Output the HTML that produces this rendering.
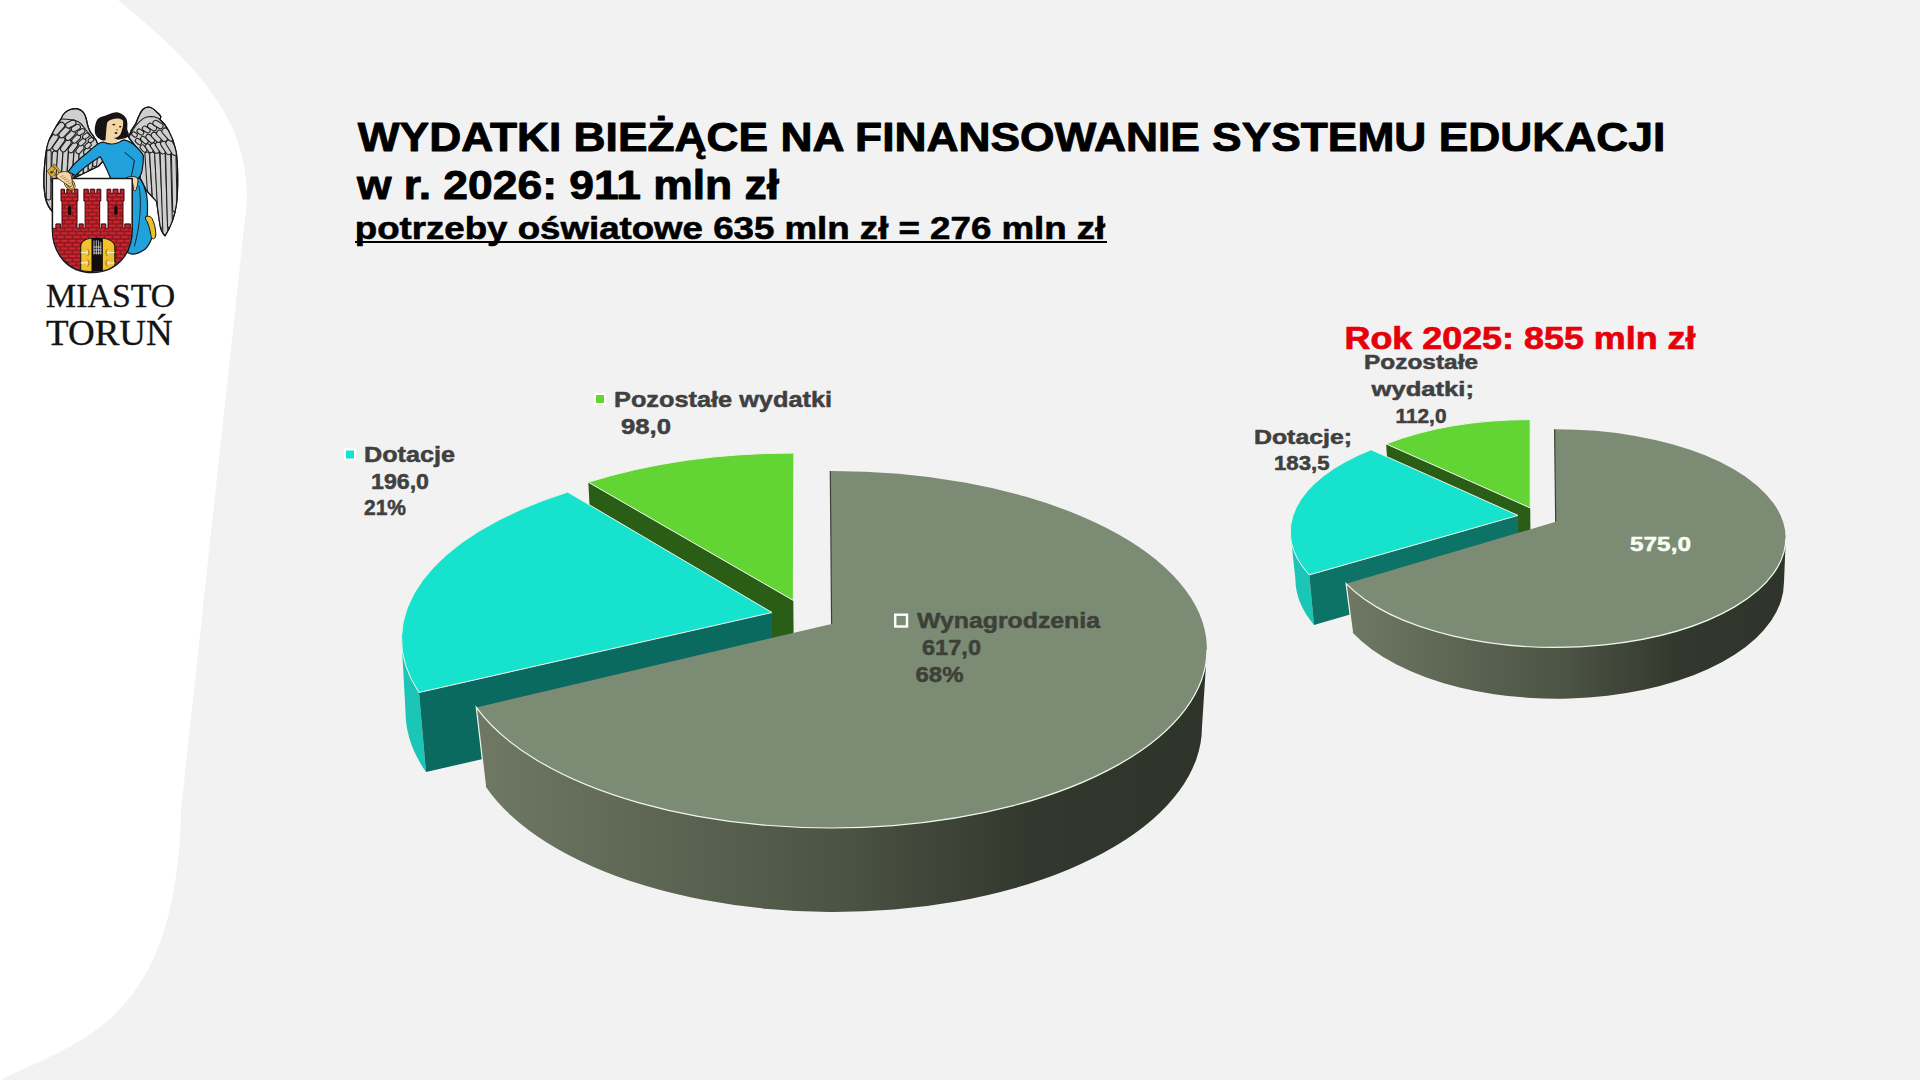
<!DOCTYPE html>
<html><head><meta charset="utf-8">
<style>
html,body{margin:0;padding:0;width:1920px;height:1080px;overflow:hidden;background:#f2f2f2;}
svg{display:block;}
.t{font-family:"Liberation Sans",sans-serif;font-weight:bold;}
.s{font-family:"Liberation Serif",serif;}
</style></head><body>
<svg width="1920" height="1080" viewBox="0 0 1920 1080">
<defs>
<linearGradient id="gside" x1="480" y1="0" x2="1210" y2="0" gradientUnits="userSpaceOnUse">
<stop offset="0" stop-color="#6e7863"/><stop offset="0.5" stop-color="#4b5343"/><stop offset="0.75" stop-color="#33382e"/><stop offset="1" stop-color="#2f342b"/>
</linearGradient>
<linearGradient id="gside2" x1="1348" y1="0" x2="1787" y2="0" gradientUnits="userSpaceOnUse">
<stop offset="0" stop-color="#6e7863"/><stop offset="0.5" stop-color="#4b5343"/><stop offset="0.75" stop-color="#33382e"/><stop offset="1" stop-color="#2f342b"/>
</linearGradient>
<pattern id="brick" x="0.5" y="189.6" width="8" height="7.6" patternUnits="userSpaceOnUse">
<rect width="8" height="7.6" fill="#6e1014"/>
<rect x="0.5" y="0.5" width="7" height="2.8" fill="#cc2630"/>
<rect x="-3.5" y="4.3" width="7" height="2.8" fill="#cc2630"/>
<rect x="4.5" y="4.3" width="7" height="2.8" fill="#cc2630"/>
</pattern>
</defs>
<rect width="1920" height="1080" fill="#f2f2f2"/>
<path d="M0,0 L118,0 C191.6,60.7 251.3,117.3 246.5,205 L181,810 C176.5,1030.1 74.2,1040.7 -5,1083 L0,1083 Z" fill="#ffffff"/>
<rect x="355" y="241" width="752" height="2" fill="#000"/>
<g id="bigpie">
<path d="M588.3,482.2 L793.3,600.4 L794.0,680.4 L592.6,562.2 Z" fill="#2a5e17"/>
<path d="M793.3,600.4 L793.9,453.0 A372.0,176.0 0 0 0 588.3,482.2 Z" fill="#62d434" stroke="#eef6ea" stroke-width="1"/>
<path d="M401.5,639.0 A370.0,176.0 0 0 0 419.0,692.5 L426.0,772.1 A362.5,182.5 0 0 1 405.5,711.6 Z" fill="#1bc6b6"/>
<path d="M419.0,692.5 L772.0,612.5 L772.7,692.0 L426.0,772.1 Z" fill="#0b6a5f"/>
<path d="M772.0,612.5 L567.7,492.1 A370.0,176.0 0 0 0 419.0,692.5 Z" fill="#16e2cd" stroke="#eef6ea" stroke-width="1"/>
<path d="M476.3,707.4 L485.5,786.2 A368.0,185.3 0 0 0 1202.0,726.7 L1207.0,649.5 A375.5,178.5 0 0 1 476.3,707.4 Z" fill="url(#gside)"/>
<path d="M831.6,624.0 L830.3,471.0 A375.5,178.5 0 1 1 476.3,707.4 Z" fill="#7c8b74"/>
<path d="M1207.0,649.5 A375.5,178.5 0 0 1 476.3,707.4 L485.5,786.2" fill="none" stroke="#eef6ea" stroke-width="1.2"/>
<path d="M830.3,471.0 L831.6,624.0" fill="none" stroke="#3c4236" stroke-width="1.2"/>
</g>
<g id="smallpie">
<path d="M1386.1,443.9 L1530.2,507.9 L1530.7,557.9 L1389.6,493.9 Z" fill="#2a5e17"/>
<path d="M1530.2,507.9 L1530.2,419.6 A228.0,108.0 0 0 0 1386.1,443.9 Z" fill="#62d434" stroke="#eef6ea" stroke-width="1"/>
<path d="M1290.3,531.9 A227.5,107.5 0 0 0 1309.3,574.9 L1314.0,625.0 A223.6,115.0 0 0 1 1295.4,579.1 Z" fill="#1bc6b6"/>
<path d="M1309.3,574.9 L1518.0,515.4 L1518.5,565.5 L1314.0,625.0 Z" fill="#0d7367"/>
<path d="M1518.0,515.4 L1371.1,449.7 A227.5,107.5 0 0 0 1309.3,574.9 Z" fill="#16e2cd" stroke="#eef6ea" stroke-width="1"/>
<path d="M1346.1,583.7 L1352.5,632.6 A227.0,116.8 0 0 0 1784.0,581.9 L1785.8,538.2 A230.3,109.0 0 0 1 1346.1,583.7 Z" fill="url(#gside2)"/>
<path d="M1555.7,521.8 L1554.6,429.2 A230.3,109.0 0 1 1 1346.1,583.7 Z" fill="#7c8b74"/>
<path d="M1785.8,538.2 A230.3,109.0 0 0 1 1346.1,583.7 L1352.5,632.6" fill="none" stroke="#eef6ea" stroke-width="1.2"/>
<path d="M1554.6,429.2 L1555.7,521.8" fill="none" stroke="#3c4236" stroke-width="1.2"/>
</g>
<rect x="595" y="394" width="10" height="10" fill="#62d434" stroke="#ffffff" stroke-width="2"/>
<rect x="345" y="449.5" width="10" height="10" fill="#16e2cd" stroke="#ffffff" stroke-width="2"/>
<rect x="895.2" y="614.7" width="11.8" height="11.8" fill="#7c8b74" stroke="#ffffff" stroke-width="2.4"/>

<text class="t" x="357.80" y="151.00" font-size="40" textLength="1307.40" lengthAdjust="spacingAndGlyphs" fill="#000" stroke="#000" stroke-width="0.9" stroke-linejoin="round">WYDATKI BIEŻĄCE NA FINANSOWANIE SYSTEMU EDUKACJI</text>
<text class="t" x="357.00" y="199.00" font-size="40" textLength="422.00" lengthAdjust="spacingAndGlyphs" fill="#000" stroke="#000" stroke-width="0.9" stroke-linejoin="round">w r. 2026: 911 mln zł</text>
<text class="t" x="354.80" y="239.00" font-size="31" textLength="750.50" lengthAdjust="spacingAndGlyphs" fill="#000" stroke="#000" stroke-width="0.6" stroke-linejoin="round">potrzeby oświatowe 635 mln zł = 276 mln zł</text>
<text class="t" x="614.00" y="407.10" font-size="22" textLength="218.00" lengthAdjust="spacingAndGlyphs" fill="#404040" stroke="#404040" stroke-width="0.5" stroke-linejoin="round">Pozostałe wydatki</text>
<text class="t" x="621.00" y="434.20" font-size="22" textLength="50.00" lengthAdjust="spacingAndGlyphs" fill="#404040" stroke="#404040" stroke-width="0.5" stroke-linejoin="round">98,0</text>
<text class="t" x="364.00" y="461.80" font-size="22" textLength="91.00" lengthAdjust="spacingAndGlyphs" fill="#404040" stroke="#404040" stroke-width="0.5" stroke-linejoin="round">Dotacje</text>
<text class="t" x="371.00" y="489.20" font-size="22" textLength="58.00" lengthAdjust="spacingAndGlyphs" fill="#404040" stroke="#404040" stroke-width="0.5" stroke-linejoin="round">196,0</text>
<text class="t" x="364.00" y="515.40" font-size="22" textLength="42.00" lengthAdjust="spacingAndGlyphs" fill="#404040" stroke="#404040" stroke-width="0.5" stroke-linejoin="round">21%</text>
<text class="t" x="917.00" y="628.10" font-size="22" textLength="183.00" lengthAdjust="spacingAndGlyphs" fill="#3c4138" stroke="#3c4138" stroke-width="0.5" stroke-linejoin="round">Wynagrodzenia</text>
<text class="t" x="922.00" y="655.00" font-size="22" textLength="59.00" lengthAdjust="spacingAndGlyphs" fill="#3c4138" stroke="#3c4138" stroke-width="0.5" stroke-linejoin="round">617,0</text>
<text class="t" x="915.50" y="681.90" font-size="22" textLength="48.00" lengthAdjust="spacingAndGlyphs" fill="#3c4138" stroke="#3c4138" stroke-width="0.5" stroke-linejoin="round">68%</text>
<text class="t" x="1364.00" y="368.75" font-size="20" textLength="114.00" lengthAdjust="spacingAndGlyphs" fill="#404040" stroke="#404040" stroke-width="0.5" stroke-linejoin="round">Pozostałe</text>
<text class="t" x="1371.50" y="395.50" font-size="20" textLength="102.50" lengthAdjust="spacingAndGlyphs" fill="#404040" stroke="#404040" stroke-width="0.5" stroke-linejoin="round">wydatki;</text>
<text class="t" x="1395.50" y="422.50" font-size="20" textLength="51.00" lengthAdjust="spacingAndGlyphs" fill="#404040" stroke="#404040" stroke-width="0.5" stroke-linejoin="round">112,0</text>
<text class="t" x="1254.00" y="443.75" font-size="20" textLength="98.00" lengthAdjust="spacingAndGlyphs" fill="#404040" stroke="#404040" stroke-width="0.5" stroke-linejoin="round">Dotacje;</text>
<text class="t" x="1274.00" y="470.00" font-size="20" textLength="55.50" lengthAdjust="spacingAndGlyphs" fill="#404040" stroke="#404040" stroke-width="0.5" stroke-linejoin="round">183,5</text>
<text class="t" x="1630.00" y="551.00" font-size="21" textLength="61.00" lengthAdjust="spacingAndGlyphs" fill="#f8fff4" stroke="#f8fff4" stroke-width="0.5" stroke-linejoin="round">575,0</text>
<text class="t" x="1344.50" y="348.75" font-size="31" textLength="351.00" lengthAdjust="spacingAndGlyphs" fill="#e5000a" stroke="#e5000a" stroke-width="0.7" stroke-linejoin="round">Rok 2025: 855 mln zł</text>
<text class="s" x="46.10" y="307.00" font-size="34" textLength="129.10" lengthAdjust="spacingAndGlyphs" fill="#141414" stroke="#141414" stroke-width="0.35" stroke-linejoin="round">MIASTO</text>
<text class="s" x="46.10" y="344.50" font-size="36.5" textLength="126.60" lengthAdjust="spacingAndGlyphs" fill="#141414" stroke="#141414" stroke-width="0.35" stroke-linejoin="round">TORUŃ</text>
<g id="logo">
<g stroke="#151515" stroke-width="1.2" stroke-linejoin="round" stroke-linecap="round">
<path fill="#cfcfcf" stroke="#151515" stroke-width="1.2" d="M61.4,118.4 C62.5,114.5 66,111 71,109.3 C75,108 80,108.5 83.3,112.3 C85.5,115 86.5,119 87.2,123.4 C88.5,129 90.5,133 92.8,135.1 C94,137 95,138.8 96.1,140.1 L104,160 L98.3,166.3 L76.3,177 L72,178.5 L52.4,178.5 L52.4,211.5 C49,208 46.5,203 45.2,197 C43.7,189 43.5,181 43.9,175.4 C44.5,165 45.2,157 46.5,149.4 C47.5,145 48.5,141 50,138 C53,132 57,124 61.4,118.4 Z"/>
<clipPath id="lwclip"><path d="M61.4,118.4 C62.5,114.5 66,111 71,109.3 C75,108 80,108.5 83.3,112.3 C85.5,115 86.5,119 87.2,123.4 C88.5,129 90.5,133 92.8,135.1 C94,137 95,138.8 96.1,140.1 L104,160 L98.3,166.3 L76.3,177 L72,178.5 L52.4,178.5 L52.4,211.5 C49,208 46.5,203 45.2,197 C43.7,189 43.5,181 43.9,175.4 C44.5,165 45.2,157 46.5,149.4 C47.5,145 48.5,141 50,138 C53,132 57,124 61.4,118.4 Z"/></clipPath><g clip-path="url(#lwclip)" fill="#cfcfcf" stroke="#1e1e1e" stroke-width="1.05"><rect x="23.75" y="172.75" width="50.00" height="4.50" rx="2.25" transform="rotate(90.6 48.75 175.00)"/><rect x="38.73" y="163.90" width="31.04" height="5.20" rx="2.60" transform="rotate(92.8 54.25 166.50)"/><rect x="44.47" y="160.40" width="30.07" height="5.20" rx="2.60" transform="rotate(93.8 59.50 163.00)"/><rect x="48.97" y="159.40" width="32.06" height="5.20" rx="2.60" transform="rotate(93.6 65.00 162.00)"/><rect x="54.47" y="159.40" width="32.06" height="5.20" rx="2.60" transform="rotate(93.6 70.50 162.00)"/><rect x="61.22" y="159.15" width="29.57" height="5.20" rx="2.60" transform="rotate(93.9 76.00 161.75)"/><rect x="67.73" y="159.00" width="27.04" height="5.00" rx="2.50" transform="rotate(93.2 81.25 161.50)"/><rect x="73.98" y="159.00" width="24.55" height="4.50" rx="2.25" transform="rotate(93.5 86.25 161.25)"/><rect x="80.97" y="157.75" width="19.56" height="4.00" rx="2.00" transform="rotate(94.4 90.75 159.75)"/><rect x="87.96" y="157.25" width="14.58" height="4.00" rx="2.00" transform="rotate(95.9 95.25 159.25)"/><rect x="42.70" y="138.75" width="18.00" height="6.50" rx="3.25" transform="rotate(-55.0 51.70 142.00)"/><rect x="50.76" y="140.70" width="16.00" height="6.20" rx="3.10" transform="rotate(-54.0 58.76 143.80)"/><rect x="58.82" y="142.65" width="14.00" height="5.90" rx="2.95" transform="rotate(-53.0 65.82 145.60)"/><rect x="66.88" y="144.60" width="12.00" height="5.60" rx="2.80" transform="rotate(-52.0 72.88 147.40)"/><rect x="74.94" y="146.55" width="10.00" height="5.30" rx="2.65" transform="rotate(-51.0 79.94 149.20)"/><rect x="83.00" y="148.50" width="8.00" height="5.00" rx="2.50" transform="rotate(-50.0 87.00 151.00)"/><rect x="51.00" y="125.55" width="15.00" height="6.30" rx="3.15" transform="rotate(-47.0 58.50 128.70)"/><rect x="57.70" y="129.09" width="13.40" height="5.94" rx="2.97" transform="rotate(-45.6 64.40 132.06)"/><rect x="64.40" y="132.63" width="11.80" height="5.58" rx="2.79" transform="rotate(-44.2 70.30 135.42)"/><rect x="71.10" y="136.17" width="10.20" height="5.22" rx="2.61" transform="rotate(-42.8 76.20 138.78)"/><rect x="77.80" y="139.71" width="8.60" height="4.86" rx="2.43" transform="rotate(-41.4 82.10 142.14)"/><rect x="84.50" y="143.25" width="7.00" height="4.50" rx="2.25" transform="rotate(-40.0 88.00 145.50)"/><rect x="65.30" y="121.20" width="11.00" height="5.60" rx="2.80" transform="rotate(-27.0 70.80 124.00)"/><rect x="70.97" y="125.40" width="9.75" height="5.20" rx="2.60" transform="rotate(-29.0 75.85 128.00)"/><rect x="76.65" y="129.60" width="8.50" height="4.80" rx="2.40" transform="rotate(-31.0 80.90 132.00)"/><rect x="82.33" y="133.80" width="7.25" height="4.40" rx="2.20" transform="rotate(-33.0 85.95 136.00)"/><rect x="88.00" y="138.00" width="6.00" height="4.00" rx="2.00" transform="rotate(-35.0 91.00 140.00)"/></g>
<path fill="none" stroke="#1e1e1e" stroke-width="1.05" d="M61.4,119.1 C65,119.3 68,119.5 71.2,119.8 C74,120.2 76.5,120.8 78.3,121.7 C80.5,123 82.3,125 83.5,126.9 C85.3,129 87,131.3 88.7,133.4 C90.3,135.5 92,137.5 93.8,139.2"/>
<path fill="none" stroke="#151515" stroke-width="1.2" d="M61.4,118.4 C62.5,114.5 66,111 71,109.3 C75,108 80,108.5 83.3,112.3 C85.5,115 86.5,119 87.2,123.4 C88.5,129 90.5,133 92.8,135.1 C94,137 95,138.8 96.1,140.1 L104,160 L98.3,166.3 L76.3,177 L72,178.5 L52.4,178.5 L52.4,211.5 C49,208 46.5,203 45.2,197 C43.7,189 43.5,181 43.9,175.4 C44.5,165 45.2,157 46.5,149.4 C47.5,145 48.5,141 50,138 C53,132 57,124 61.4,118.4 Z"/>
<path fill="#cfcfcf" stroke="#151515" stroke-width="1.2" d="M128.6,137.4 C130.5,131 133,127 135.8,123.7 C138,118 140,112 143,109.2 C145,107.5 147,107 148.8,107 C152,107.2 155,110 157.5,112.8 C159,114 160.5,115.5 160.8,116.5 C160.8,117.8 160.2,118.8 159.7,119.3 C163.5,122.5 166.5,126.5 168.4,130.2 C171.5,136 173.8,142 174.9,146.8 C176.2,151 176.9,155 177,159.8 C177.6,167 177.7,173 177.7,180 C177.7,188 177.6,195 176.5,204 C175,215 171.5,226 165,235.8 C162,233 160.5,229 160,225 C158.5,216 157.5,208 156.7,201.7 L146,190 L140,178 L143,156 Z"/>
<clipPath id="rwclip"><path d="M128.6,137.4 C130.5,131 133,127 135.8,123.7 C138,118 140,112 143,109.2 C145,107.5 147,107 148.8,107 C152,107.2 155,110 157.5,112.8 C159,114 160.5,115.5 160.8,116.5 C160.8,117.8 160.2,118.8 159.7,119.3 C163.5,122.5 166.5,126.5 168.4,130.2 C171.5,136 173.8,142 174.9,146.8 C176.2,151 176.9,155 177,159.8 C177.6,167 177.7,173 177.7,180 C177.7,188 177.6,195 176.5,204 C175,215 171.5,226 165,235.8 C162,233 160.5,229 160,225 C158.5,216 157.5,208 156.7,201.7 L146,190 L140,178 L143,156 Z"/></clipPath><g clip-path="url(#rwclip)" fill="#cfcfcf" stroke="#1e1e1e" stroke-width="1.05"><rect x="125.95" y="172.25" width="45.10" height="4.50" rx="2.25" transform="rotate(86.2 148.50 174.50)"/><rect x="125.70" y="177.50" width="56.11" height="5.00" rx="2.50" transform="rotate(86.4 153.75 180.00)"/><rect x="120.45" y="187.00" width="77.10" height="5.00" rx="2.50" transform="rotate(87.0 159.00 189.50)"/><rect x="121.72" y="190.25" width="84.55" height="5.00" rx="2.50" transform="rotate(88.0 164.00 192.75)"/><rect x="129.49" y="186.00" width="79.03" height="5.00" rx="2.50" transform="rotate(88.5 169.00 188.50)"/><rect x="142.24" y="177.75" width="64.02" height="4.50" rx="2.25" transform="rotate(88.7 174.25 180.00)"/><rect x="139.50" y="146.25" width="8.00" height="4.50" rx="2.25" transform="rotate(50.0 143.50 148.50)"/><rect x="144.30" y="145.85" width="9.80" height="4.90" rx="2.45" transform="rotate(51.6 149.20 148.30)"/><rect x="149.10" y="145.45" width="11.60" height="5.30" rx="2.65" transform="rotate(53.2 154.90 148.10)"/><rect x="153.90" y="145.05" width="13.40" height="5.70" rx="2.85" transform="rotate(54.8 160.60 147.90)"/><rect x="158.70" y="144.65" width="15.20" height="6.10" rx="3.05" transform="rotate(56.4 166.30 147.70)"/><rect x="163.50" y="144.25" width="17.00" height="6.50" rx="3.25" transform="rotate(58.0 172.00 147.50)"/><rect x="135.00" y="139.25" width="7.00" height="4.50" rx="2.25" transform="rotate(40.0 138.50 141.50)"/><rect x="140.10" y="137.67" width="8.60" height="4.86" rx="2.43" transform="rotate(41.6 144.40 140.10)"/><rect x="145.20" y="136.09" width="10.20" height="5.22" rx="2.61" transform="rotate(43.2 150.30 138.70)"/><rect x="150.30" y="134.51" width="11.80" height="5.58" rx="2.79" transform="rotate(44.8 156.20 137.30)"/><rect x="155.40" y="132.93" width="13.40" height="5.94" rx="2.97" transform="rotate(46.4 162.10 135.90)"/><rect x="160.50" y="131.35" width="15.00" height="6.30" rx="3.15" transform="rotate(48.0 168.00 134.50)"/><rect x="131.50" y="132.50" width="6.00" height="4.00" rx="2.00" transform="rotate(35.0 134.50 134.50)"/><rect x="136.75" y="129.80" width="7.25" height="4.40" rx="2.20" transform="rotate(33.8 140.38 132.00)"/><rect x="142.00" y="127.10" width="8.50" height="4.80" rx="2.40" transform="rotate(32.5 146.25 129.50)"/><rect x="147.25" y="124.40" width="9.75" height="5.20" rx="2.60" transform="rotate(31.2 152.12 127.00)"/><rect x="152.50" y="121.70" width="11.00" height="5.60" rx="2.80" transform="rotate(30.0 158.00 124.50)"/></g>
<path fill="none" stroke="#1e1e1e" stroke-width="1.05" d="M128.6,137.4 C131,133 133.5,129 135.8,125.8 C138,123 140.5,120.5 143,118.6 C145.5,117.3 148,116.6 150.3,116.5 C153,116.5 155.5,117 157.5,117.9 C158.5,118.4 159.2,118.8 159.7,119.3"/>
<path fill="none" stroke="#151515" stroke-width="1.2" d="M128.6,137.4 C130.5,131 133,127 135.8,123.7 C138,118 140,112 143,109.2 C145,107.5 147,107 148.8,107 C152,107.2 155,110 157.5,112.8 C159,114 160.5,115.5 160.8,116.5 C160.8,117.8 160.2,118.8 159.7,119.3 C163.5,122.5 166.5,126.5 168.4,130.2 C171.5,136 173.8,142 174.9,146.8 C176.2,151 176.9,155 177,159.8 C177.6,167 177.7,173 177.7,180 C177.7,188 177.6,195 176.5,204 C175,215 171.5,226 165,235.8 C162,233 160.5,229 160,225 C158.5,216 157.5,208 156.7,201.7 L146,190 L140,178 L143,156 Z"/>
<!-- hair -->
<path fill="#161414" stroke="none" d="M116.6,112.2 C119,112.3 120.5,113.2 122,114.3 C123.5,115 124.6,116 125.4,117.2 C126.6,118.8 127.2,120.5 127.2,122.1 C127.6,124.5 127.3,127 127.2,129.1 C127.6,131 128.6,132.6 129,134.4 C129,135.8 128.2,136.8 127.2,137.2 C126,138 124.8,138.4 123.7,138.6 L117,140 L104.3,140.6 C102.5,140.6 101,140 99.7,139 C98.3,138.2 97.3,137.3 96.6,136.2 C95.3,134.5 94.8,132.8 94.8,130.9 C94.6,129 94.8,127.3 95.2,125.6 C95.6,123.3 96.3,121.3 97.3,119.6 C99,117.8 101.5,116.8 104.3,116.1 C106,115.2 107.8,114.5 109.6,114 C112,113 114.3,112.3 116.6,112.2 Z"/>
<!-- face -->
<path fill="#f4d6a6" stroke="none" d="M107.1,122.8 C108.5,121 110,120 111.7,119.6 C114,118.8 116.3,118.4 118.4,118.6 C120.2,118.9 121.8,119.6 123,120.7 C123.3,123 123.2,125.5 122.6,127.7 C122,130.2 121.2,132.6 120.2,134.8 C118.5,136.8 116,138 113.8,138.3 L117.4,139.2 L117.8,143.6 L105.2,143.6 L105.4,141.4 C105.6,138.5 105.8,135.5 106.1,132.6 C106.3,129.3 106.6,126 107.1,122.8 Z"/>
<g fill="#3a1e08" stroke="none">
<ellipse cx="113.8" cy="124.6" rx="1.5" ry="0.9"/><ellipse cx="120.2" cy="126.7" rx="1.1" ry="0.9"/>
<ellipse cx="117" cy="129.8" rx="0.8" ry="0.5"/>
<ellipse cx="116" cy="133" rx="1.4" ry="0.9"/>
</g>
<!-- body -->
<path fill="#22a2dc" stroke-width="1.2" d="M104,142.2 C108.5,144.5 115,144.8 119.6,142 C121,141 122.5,140.2 124,139.8 C129,141 133,143.5 135.9,146.5 C139,149.5 141.5,152 143.3,155.4 C143.6,161 143,166 141.9,171.7 C141,175 139.5,177.5 137.4,179 L128,178.8 L110.7,178.5 C109.5,176 108.5,174 107.8,171.7 C105,166 102.5,160 100,156.7 C94,160.5 84,167 75.5,175.5 C72.5,174 70.5,172.8 68.3,171.7 C72,166 79,159 86.7,153.3 C91,149.5 95,145.5 98.9,143.5 C100.5,142.7 102,142.2 104,142.2 Z"/>
<path fill="none" stroke-width="1" d="M124.8,152.4 C128,155 131.5,158 134.4,160.6 C133.5,166 132.5,171 131.5,175.4"/>
<!-- robe lower right -->
<path fill="#22a2dc" stroke-width="1.2" d="M132.3,178.5 L140,178.3 C143,183 145.5,189 146.7,195 C147.6,201 147.8,206 147.5,211.7 C147.3,215 147,218 146.7,220 C149,221.5 151,225 152,230 C152.5,235 152,238 151.7,238.3 C150,243 147.5,247 145,249.2 C141,252 136.5,254 132.5,254.2 C130,254 128.5,253 127.5,252.5 L132.3,230 Z"/>
<path fill="none" stroke-width="0.9" d="M139,186 C141.5,200 141,222 134.5,246"/>
<!-- foot -->
<path fill="#f0c02c" stroke-width="1" d="M145.8,216.7 C148,215.5 150.5,216 152,218.5 C154,222 155.8,229 155.8,234 C155.8,237 155,238.5 153.5,238.8 C151.5,239 151,236 150.5,233 C149.5,228 148,222 145.8,219.5 Z"/>
<!-- right hand -->
<path fill="#f4d6a6" stroke-width="0.9" d="M126.5,178 C128.5,176.3 132,176 135,176.8 C137,177.5 138.2,179 138,181 C137.8,184 137.2,187 136.2,189.5 C135.6,191.2 134.2,191.4 133.6,190 C133.2,188 132.8,186 131.5,184.5 C130.5,183.5 129.5,183 128.5,182.5 C127,181.5 126,179.8 126.5,178 Z"/>
<path fill="none" stroke-width="0.6" d="M131,180 C132.5,182 133.5,185 134,188"/>
</g>
<g>
<path fill="#ffffff" stroke="none" d="M52.4,178.4 L132.2,178.4 L132.2,229 C132.2,254 117,272.5 92.3,272.5 C68,272.5 52.4,254 52.4,229 Z"/>
<clipPath id="shclip"><path d="M53,179 L131.6,179 L131.6,229 C131.6,253.5 117,271.9 92.3,271.9 C68,271.9 53,253.5 53,229 Z"/></clipPath>
<g clip-path="url(#shclip)">
<path fill="url(#brick)" stroke="#3e0609" stroke-width="1" d="
M52,228.3 L55.9,228.3 L55.9,223.9 L60.6,223.9 L60.6,228.3 L62,228.3 L62,201 L61,201 L61,189.2 L64.5,189.2 L64.5,193.3 L66.8,193.3 L66.8,189.2 L72.1,189.2 L72.1,193.3 L74.2,193.3 L74.2,189.2 L77.9,189.2 L77.9,201 L77,201 L77,228.3
L79.1,228.3 L79.1,223.9 L83.2,223.9 L83.2,228.3 L85.1,228.3 L85.1,201 L83.9,201 L83.9,189.2 L88.3,189.2 L88.3,193.3 L90.2,193.3 L90.2,189.2 L94.8,189.2 L94.8,193.3 L96.9,193.3 L96.9,189.2 L100.8,189.2 L100.8,201 L99.7,201 L99.7,228.3
L101.3,228.3 L101.3,223.9 L105.8,223.9 L105.8,228.3 L108,228.3 L108,201 L107,201 L107,189.2 L110.8,189.2 L110.8,193.3 L113,193.3 L113,189.2 L118,189.2 L118,193.3 L120.2,193.3 L120.2,189.2 L124,189.2 L124,201 L123,201 L123,228.3
L124.8,228.3 L124.8,223.9 L130.4,223.9 L130.4,228.3 L133,228.3 L133,275 L52,275 Z"/>
<!-- windows -->
<rect x="68" y="205.6" width="3.2" height="9.7" rx="1.5" fill="#1a0a0a"/>
<rect x="114.3" y="205.6" width="3.2" height="9.5" rx="1.5" fill="#1a0a0a"/>
<!-- gate -->
<path fill="#120c10" d="M80.2,272 L80.2,247 C80.2,241 86,237.5 97,237.8 C108,237.5 115.3,241 115.3,247 L115.3,271 Z"/>
<path fill="#f2c22c" stroke="#1a1200" stroke-width="0.8" d="M80.8,270.8 L80.8,247 C80.8,242 85,238.8 91.9,238.3 L91.9,271.6 Z"/>
<path fill="#f2c22c" stroke="#1a1200" stroke-width="0.8" d="M102.5,238.3 C109,238.8 114.7,242 114.7,247 L114.7,269.8 L102.5,271.2 Z"/>
<g stroke="#ececec" stroke-width="0.75" fill="none">
<path d="M94,240.5 L94,254.5 M96.3,240.2 L96.3,254.5 M98.6,240.5 L98.6,254.5 M100.8,242 L100.8,254.5 M93.5,247 L101.3,247 M93.5,250 L101.3,250 M93.5,253 L101.3,253"/>
</g>
<g stroke="#f4f0e0" stroke-width="1.1" fill="none">
<path d="M80.8,252.5 L87,252.5 M87,250.8 L87,254.2 M80.8,262.9 L87,262.9 M87,261.2 L87,264.6"/>
<path d="M114.7,252.5 L108,252.5 M108,250.8 L108,254.2 M114.7,262.9 L108,262.9 M108,261.2 L108,264.6"/>
</g>
<g stroke="#3a2a00" stroke-width="0.5" fill="none">
<path d="M87.5,249 C89.5,251 89.5,254 87.5,256 M87.5,259.5 C89.5,261.5 89.5,264.5 87.5,266.5 M107.5,249 C105.5,251 105.5,254 107.5,256 M107.5,259.5 C105.5,261.5 105.5,264.5 107.5,266.5"/>
</g>
</g>
<path fill="none" stroke="#161616" stroke-width="1.5" d="M52.4,178.4 L132.2,178.4 L132.2,229 C132.2,254 117,272.5 92.3,272.5 C68,272.5 52.4,254 52.4,229 Z"/>
</g>
<!-- key + left hand -->
<g stroke="#3a2a00" stroke-width="0.6" stroke-linejoin="round">
<path fill="#d8ac30" d="M47.3,171.2 L51.8,165.8 L55.2,168.8 L53.2,171 L56,174.3 L51.3,177.2 Z"/>
<circle cx="51.6" cy="172.3" r="1.3" fill="#4a3200" stroke="none"/>
<path fill="#d8ac30" d="M52.8,165 L54.6,163.9 L61,172 L59.2,173.2 Z"/>
<ellipse cx="69.6" cy="184" rx="5.8" ry="3.6" fill="none" stroke="#3a2a00" stroke-width="2.6" transform="rotate(50 69.6 184)"/>
<ellipse cx="69.6" cy="184" rx="5.8" ry="3.6" fill="none" stroke="#d8b040" stroke-width="1.5" transform="rotate(50 69.6 184)"/>
<path fill="#f4d6a6" stroke-width="0.8" d="M56.5,176 C58,172.5 62,171.3 66,171.6 C69,172 71.3,174 71.5,177 C72,180 72.6,183 72.2,185.2 C71.8,186.8 70.5,187 69.3,186.2 C66,184 62,181.2 59,179.2 C57.5,178.2 56.5,177.2 56.5,176 Z"/>
<path fill="none" stroke="#7a5a30" stroke-width="0.55" d="M60.2,176.8 L63.5,175.6 M62,178.4 L65.8,177.2 M64,180 L67.8,178.9 M66,181.7 L69.8,180.8 M68,183.5 L71.3,182.8"/>
</g>

</g>
</svg>
</body></html>
